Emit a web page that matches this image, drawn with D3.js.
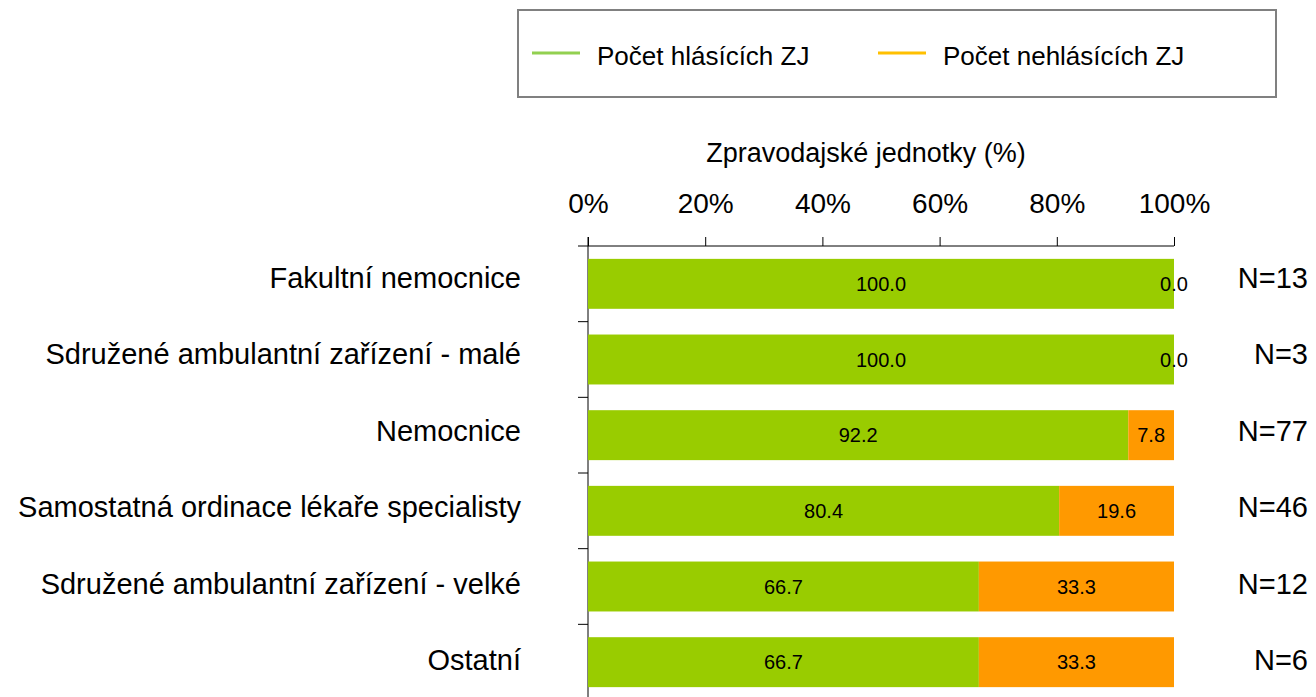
<!DOCTYPE html>
<html>
<head>
<meta charset="utf-8">
<script src="https://cdnjs.cloudflare.com/ajax/libs/d3/7.8.5/d3.min.js"></script>
<style>
  body { margin: 0; background: #fff; }
  svg { font-family: "Liberation Sans", Arial, sans-serif; }
</style>
</head>
<body>
<div id="chart"></div>
<script>
const categories = [
  'Fakultní nemocnice',
  'Sdružené ambulantní zařízení - malé',
  'Nemocnice',
  'Samostatná ordinace lékaře specialisty',
  'Sdružené ambulantní zařízení - velké',
  'Ostatní'
];
const reporting = [100.0, 100.0, 92.2, 80.4, 66.7, 66.7];
const notReporting = [0.0, 0.0, 7.8, 19.6, 33.3, 33.3];
const counts = [13, 3, 77, 46, 12, 6];
const seriesNames = ['Počet hlásících ZJ', 'Počet nehlásících ZJ'];
const xTicks = [0, 20, 40, 60, 80, 100];

const width = 1316, height = 697;
const colors = ['#99cc00', '#ff9900'];
const legendColors = ['#92d050', '#ffc000'];

const svg = d3.select('#chart').append('svg')
  .attr('width', width)
  .attr('height', height);

const x = d3.scaleLinear().domain([0, 100]).range([588, 1174]);
const y = d3.scaleBand().domain(categories).range([246, 700]).paddingInner(0.34).paddingOuter(0.17);

// legend
const legend = svg.append('g');
legend.append('rect')
  .attr('x', 518).attr('y', 10)
  .attr('width', 758).attr('height', 87)
  .attr('fill', '#fff')
  .attr('stroke', '#808080')
  .attr('stroke-width', 2);
const legendX = [532, 878];
seriesNames.forEach((name, i) => {
  legend.append('line')
    .attr('x1', legendX[i]).attr('x2', legendX[i] + 48)
    .attr('y1', 53).attr('y2', 53)
    .attr('stroke', legendColors[i])
    .attr('stroke-width', 3);
  legend.append('text')
    .attr('x', legendX[i] + 65).attr('y', 65)
    .attr('font-size', 26)
    .text(name);
});

// axis title
svg.append('text')
  .attr('x', (x(0) + x(100)) / 2 - 15).attr('y', 162)
  .attr('text-anchor', 'middle')
  .attr('font-size', 27)
  .text('Zpravodajské jednotky (%)');

// top axis
const xAxis = d3.axisTop(x).tickValues(xTicks).tickSize(9).tickFormat(d => d + '%');
const gx = svg.append('g').attr('transform', 'translate(0,246)').call(xAxis);
gx.select('.domain').remove();
gx.append('line').attr('x1', 578).attr('x2', x(100)).attr('y1', 0).attr('y2', 0).attr('stroke', '#000');
gx.selectAll('.tick line').attr('stroke', '#000');
gx.selectAll('.tick text')
  .attr('font-size', 28)
  .attr('font-family', '"Liberation Sans", Arial, sans-serif')
  .attr('fill', '#000')
  .attr('dy', null)
  .attr('y', -33);

// vertical axis
svg.append('line')
  .attr('x1', x(0)).attr('x2', x(0))
  .attr('y1', 237).attr('y2', height)
  .attr('stroke', '#000');
const step = y.step();
categories.slice(1).forEach((c, i) => {
  const yy = 246 + step * (i + 1);
  svg.append('line')
    .attr('x1', 578).attr('x2', x(0))
    .attr('y1', yy).attr('y2', yy)
    .attr('stroke', '#000');
});

// bars
const rows = categories.map((c, i) => ({ cat: c, vals: [reporting[i], notReporting[i]], n: counts[i] }));
rows.forEach(r => {
  let start = 0;
  r.vals.forEach((v, k) => {
    svg.append('rect')
      .attr('x', x(start))
      .attr('y', y(r.cat))
      .attr('width', x(start + v) - x(start))
      .attr('height', y.bandwidth())
      .attr('fill', colors[k]);
    start += v;
  });
});
rows.forEach((r, i) => {
  let start = 0;
  const cy = y(r.cat) + y.bandwidth() / 2;
  r.vals.forEach(v => {
    svg.append('text')
      .attr('x', x(start + v / 2))
      .attr('y', cy + 7)
      .attr('text-anchor', 'middle')
      .attr('font-size', 20)
      .text(v.toFixed(1));
    start += v;
  });
  const ly = cy + 4 + i * 0.8;
  svg.append('text')
    .attr('x', 521)
    .attr('y', ly)
    .attr('text-anchor', 'end')
    .attr('font-size', 29)
    .text(r.cat);
  svg.append('text')
    .attr('x', 1308)
    .attr('y', ly)
    .attr('text-anchor', 'end')
    .attr('font-size', 29)
    .text('N=' + r.n);
});
</script>
</body>
</html>
